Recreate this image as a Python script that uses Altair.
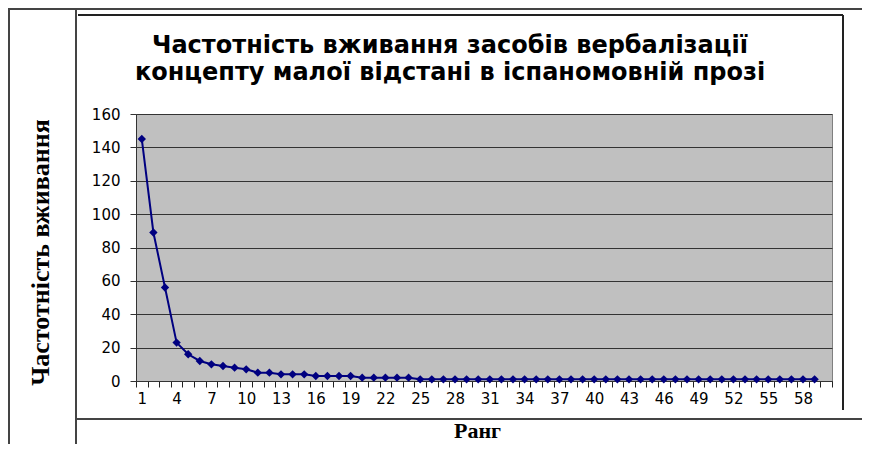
import altair as alt
import pandas as pd

ranks = list(range(1, 60))
freqs = [145, 89, 56, 23, 16, 12, 10, 9, 8, 7,
         5, 5, 4, 4, 4, 3, 3, 3, 3, 2,
         2, 2, 2, 2, 1, 1, 1, 1, 1, 1,
         1, 1, 1, 1, 1, 1, 1, 1, 1, 1,
         1, 1, 1, 1, 1, 1, 1, 1, 1, 1,
         1, 1, 1, 1, 1, 1, 1, 1, 1]
x_label_step = 3
y_ticks = list(range(0, 161, 20))
category_edges = [i + 0.5 for i in range(0, 61)]
title_lines = ["Частотність вживання засобів вербалізації",
               "концепту малої відстані в іспаномовній прозі"]
y_title = "Частотність вживання"
x_title = "Ранг"

df = pd.DataFrame({"rank": ranks, "freq": freqs})

NAVY = "#000080"
DARK = "#333333"

x_scale = alt.Scale(domain=[0.5, 60.5], nice=False, zero=False)
x_axis = alt.Axis(
    values=category_edges, ticks=True, tickSize=6, tickColor="#222222",
    tickWidth=1, tickOpacity=1,
    labelExpr=f"((datum.value - 0.5) % {x_label_step} == 0) && datum.value < 59 ? "
              "format(datum.value + 0.5, 'd') : ''",
    labelOffset=5.8,
    domainColor=DARK, domainWidth=1,
    labelFont="DejaVu Sans", labelFontSize=15, labelColor="black",
    labelPadding=4, labelOverlap=False, labelFlush=False, grid=False,
    title=x_title, titleFont="Liberation Serif", titleFontSize=22,
    titleFontWeight="bold", titleColor="black",
    titleX=341, titleY=49, titleBaseline="middle", titleAlign="center",
)
x_enc = alt.X("rank:Q", scale=x_scale, axis=x_axis, title=x_title)
y_enc = alt.Y(
    "freq:Q",
    scale=alt.Scale(domain=[0, 160], nice=False),
    title=y_title,
    axis=alt.Axis(
        values=y_ticks, grid=True, gridColor=DARK, gridWidth=1,
        tickSize=6, tickColor=DARK, domainColor=DARK,
        labelFont="DejaVu Sans", labelFontSize=15, labelColor="black",
        labelPadding=10, labelOverlap=False,
        title=y_title, titleFont="Liberation Serif", titleFontSize=26,
        titleFontWeight="bold", titleColor="black",
        titleX=-96, titleY=138, titleAngle=-90,
        titleBaseline="middle", titleAlign="center",
    ),
)

base = alt.Chart(df)
line = base.mark_line(color=NAVY, strokeWidth=2).encode(x=x_enc, y=y_enc)
pts = base.mark_point(shape="diamond", filled=True, size=70, color=NAVY, opacity=1).encode(
    x=x_enc, y=y_enc)

one = alt.Data(values=[{}])


def hrule(x1, x2, y, color="#444444", w=2):
    return alt.Chart(one).mark_rule(color=color, strokeWidth=w).encode(
        x=alt.value(x1), x2=alt.value(x2), y=alt.value(y))


def vrule(x, y1, y2, color="#444444", w=2):
    return alt.Chart(one).mark_rule(color=color, strokeWidth=w).encode(
        x=alt.value(x), y=alt.value(y1), y2=alt.value(y2))


def label(text, x, y):
    return alt.Chart(one).mark_text(
        font="DejaVu Sans", fontSize=24, fontWeight="bold", color="black",
        align="center", baseline="alphabetic").encode(
        x=alt.value(x), y=alt.value(y), text=alt.value(text))


frame = [
    hrule(-128, 726, -105),
    vrule(-127, -105, 330),
    vrule(-60, -105, 330),
    hrule(-60, 726, 305),
    hrule(-58, 707, -99, color="#222222", w=2),
    vrule(707, -99, 296, color="#222222", w=2),
]
titles = [label(title_lines[0], 314, -61), label(title_lines[1], 314, -34)]

chart = alt.layer(line, pts, *frame, *titles).properties(
    width=696, height=267,
    autosize=alt.AutoSizeParams(type="none"),
    padding={"left": 128, "top": 106, "right": 30, "bottom": 63},
    background="white",
).configure_view(fill="#C0C0C0", stroke="#808080", strokeWidth=1)

chart.save("out.html", embed_options={"renderer": "svg", "actions": False})
